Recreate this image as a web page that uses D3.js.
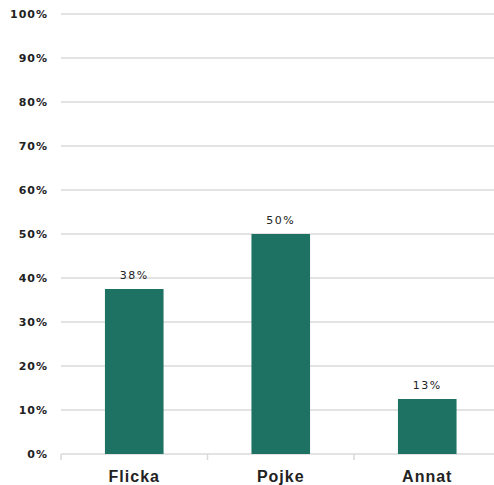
<!DOCTYPE html>
<html>
<head>
<meta charset="utf-8">
<script src="https://cdn.jsdelivr.net/npm/d3@7"></script>
<style>
  body { margin: 0; background: #fff; }
  text { font-family: "Liberation Sans", Arial, sans-serif; fill: #222; }
</style>
</head>
<body>
<div id="container"></div>
<script>
/* DATA */
const categories = ["Flicka", "Pojke", "Annat"];
const values = [37.5, 50, 12.5];
const valueLabels = ["38%", "50%", "13%"];
const yTicks = [0, 10, 20, 30, 40, 50, 60, 70, 80, 90, 100];

const width = 494, height = 485;
const plotLeft = 61, plotRight = 500.5, plotTop = 14, plotBottom = 454;

const svg = d3.select("#container")
  .append("svg")
  .attr("width", width)
  .attr("height", height);

/* SCALES */
const xScale = d3.scaleBand()
  .domain(categories)
  .range([plotLeft, plotRight]);

const yScale = d3.scaleLinear()
  .domain([0, 100])
  .range([plotBottom, plotTop]);

// gridlines
svg.append("g")
  .selectAll("line")
  .data(yTicks)
  .join("line")
  .attr("x1", plotLeft)
  .attr("x2", width)
  .attr("y1", d => yScale(d))
  .attr("y2", d => yScale(d))
  .attr("stroke", "#e3e3e3")
  .attr("stroke-width", 2);

// y labels
svg.append("g")
  .selectAll("text")
  .data(yTicks)
  .join("text")
  .attr("x", 48)
  .attr("y", d => yScale(d) + 4)
  .attr("text-anchor", "end")
  .style("font-family", "'DejaVu Sans', sans-serif")
  .style("font-size", "11px")
  .style("font-weight", "bold")
  .style("letter-spacing", "1px")
  .text(d => d + "%");

// category tick marks
const bounds = categories.map(c => xScale(c)).concat([plotRight]);
svg.append("g")
  .selectAll("line")
  .data(bounds)
  .join("line")
  .attr("x1", d => d)
  .attr("x2", d => d)
  .attr("y1", plotBottom)
  .attr("y2", plotBottom + 6)
  .attr("stroke", "#d9d9d9")
  .attr("stroke-width", 1.5);

const barW = xScale.bandwidth() * 0.4;

svg.append("g")
  .selectAll("rect")
  .data(values)
  .join("rect")
  .attr("x", (d, i) => xScale(categories[i]) + xScale.bandwidth() / 2 - barW / 2)
  .attr("y", d => yScale(d))
  .attr("width", barW)
  .attr("height", d => plotBottom - yScale(d))
  .attr("fill", "#1d7264");

svg.append("g")
  .selectAll("text")
  .data(values)
  .join("text")
  .attr("x", (d, i) => xScale(categories[i]) + xScale.bandwidth() / 2)
  .attr("y", d => yScale(d) - 10)
  .attr("text-anchor", "middle")
  .style("font-family", "'DejaVu Sans', sans-serif")
  .style("font-size", "11px")
  .style("letter-spacing", "1.5px")
  .text((d, i) => valueLabels[i]);

svg.append("g")
  .selectAll("text")
  .data(categories)
  .join("text")
  .attr("x", d => xScale(d) + xScale.bandwidth() / 2)
  .attr("y", 482)
  .attr("text-anchor", "middle")
  .style("font-size", "16px")
  .style("font-weight", "bold")
  .style("letter-spacing", "1px")
  .text(d => d);
</script>
</body>
</html>
